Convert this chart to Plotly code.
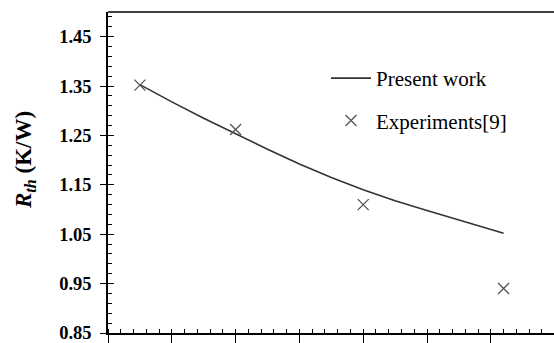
import plotly.graph_objects as go

# Data
model_x = [0.5, 1.0, 1.5, 2.0, 2.5, 3.0, 3.5, 4.0, 4.5, 5.0, 5.5, 6.0, 6.2]
model_y = [1.353, 1.318, 1.285, 1.253, 1.222, 1.192, 1.165, 1.140, 1.118, 1.098, 1.079, 1.060, 1.052]
exp_x = [0.5, 2.0, 4.0, 6.2]
exp_y = [1.352, 1.262, 1.110, 0.940]
ytick_vals = [0.85, 0.95, 1.05, 1.15, 1.25, 1.35, 1.45]
ytick_text = ["0.85", "0.95", "1.05", "1.15", "1.25", "1.35", "1.45"]

W, H = 554, 343
L, R, T, B = 108, 0, 12, 10
xr = [0, (W - L - R) / 63.8]
yr = [0.85, 1.5]

SERIF = "Liberation Serif, Times New Roman, serif"

fig = go.Figure()
fig.add_trace(go.Scatter(x=model_x, y=model_y, mode="lines", name="Present work",
                         line=dict(color="#333333", width=1.6), legendgroup="a"))
fig.add_trace(go.Scatter(x=exp_x, y=exp_y, mode="markers", name="Experiments[9]",
                         marker=dict(symbol="x-thin-open", size=11, color="#555555",
                                     line=dict(color="#555555", width=1.3)),
                         legendgroup="b"))
fig.add_trace(go.Scatter(x=[None], y=[None], xaxis="x2", yaxis="y2", showlegend=False,
                         hoverinfo="skip"))

axis_font = dict(family=SERIF, size=18.5, color="black")

fig.update_layout(
    width=W, height=H,
    margin=dict(l=L, r=R, t=T, b=B),
    paper_bgcolor="white", plot_bgcolor="white",
    font=dict(family=SERIF, color="black"),
    xaxis=dict(range=xr, showgrid=False, zeroline=False, showline=True,
               linecolor="black", linewidth=1.5, ticks="outside", ticklen=8,
               tickwidth=1.3, tickcolor="black", tick0=0, dtick=1,
               showticklabels=False,
               minor=dict(ticks="inside", ticklen=4, tickwidth=1.1,
                          tickcolor="black", dtick=0.2, tick0=0)),
    yaxis=dict(range=yr, showgrid=False, zeroline=False, showline=True,
               linecolor="black", linewidth=1.5, ticks="outside", ticklen=6,
               tickwidth=1.3, tickcolor="black", tickvals=ytick_vals,
               ticktext=[f"<b>{t}</b>" for t in ytick_text], tickfont=axis_font,
               ticklabelstandoff=5, ticklabeloverflow="allow",
               minor=dict(ticks="inside", ticklen=4, tickwidth=1.1,
                          tickcolor="black", dtick=0.02, tick0=0.85)),
    xaxis2=dict(range=xr, overlaying="x", showgrid=False, zeroline=False,
                showline=False, ticks="inside", ticklen=4, tickwidth=1.3,
                tickcolor="black", tick0=0, dtick=1, showticklabels=False),
    yaxis2=dict(range=yr, overlaying="y", side="left", showgrid=False,
                zeroline=False, showline=False, ticks="inside", ticklen=6,
                tickwidth=1.3, tickcolor="black", tickvals=ytick_vals,
                showticklabels=False),
    showlegend=True,
    legend=dict(x=(326 - L) / (W - L - R), y=(H - B - 58) / (H - T - B),
                xanchor="left", yanchor="top", bgcolor="rgba(0,0,0,0)",
                font=dict(family=SERIF, size=21, color="black"),
                tracegroupgap=12, itemwidth=40),
)

fig.add_shape(type="line", xref="paper", yref="paper", x0=0, x1=1, y0=1, y1=1,
              line=dict(color="black", width=1.5))

fig.add_annotation(text="<b><i>R</i><sub><i>th</i></sub> (K/W)</b>",
                   xref="paper", yref="paper",
                   x=(25 - L) / (W - L - R), y=(H - B - 160) / (H - T - B),
                   textangle=-90, showarrow=False, xanchor="center", yanchor="middle",
                   font=dict(family=SERIF, size=23, color="black"))

fig.write_html("out.html")
